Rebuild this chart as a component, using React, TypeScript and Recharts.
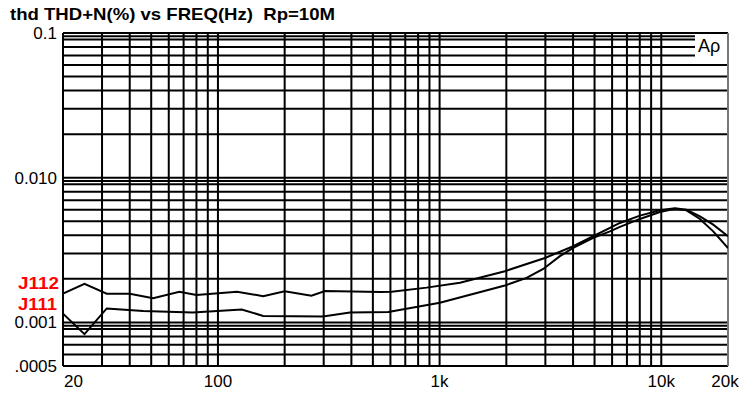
import { LineChart, Line, XAxis, YAxis, ReferenceLine } from "recharts";

const freqTicks = [20, 100, 1000, 10000, 20000];
const freqTickLabels = ["20", "100", "1k", "10k", "20k"];
const thdTicks = [0.0005, 0.001, 0.01, 0.1];
const thdTickLabels = [".0005", "0.001", "0.010", "0.1"];

const freqGrid = [
  20, 30, 40, 50, 60, 70, 80, 90,
  100, 200, 300, 400, 500, 600, 700, 800, 900,
  1000, 2000, 3000, 4000, 5000, 6000, 7000, 8000, 9000,
  10000,
];
const thdGrid = [
  0.0005, 0.0006, 0.0007, 0.0008, 0.0009, 0.00095,
  0.001, 0.002, 0.003, 0.004, 0.005, 0.006, 0.007, 0.008, 0.009, 0.0095,
  0.01, 0.02, 0.03, 0.04, 0.05, 0.06, 0.07, 0.08, 0.09, 0.095,
  0.1,
];

// J112 sweep
const j112Freq = [
  20, 25, 31.5, 40, 51, 67, 80, 122, 160, 200, 264, 304, 540, 608, 874, 1235,
  1971, 2986, 4006, 4932, 5866, 6508, 8010, 9859, 11520, 13000, 14940, 17150, 20000,
];
const j112Thd = [
  0.00158, 0.00185, 0.00158, 0.00158, 0.00147, 0.00163, 0.00155, 0.00163, 0.00152,
  0.00164, 0.00153, 0.00165, 0.00162, 0.00163, 0.00174, 0.00188, 0.00226, 0.00279,
  0.00336, 0.00394, 0.0045, 0.00487, 0.00547, 0.00595, 0.00614, 0.00602, 0.00541,
  0.00474, 0.00394,
];

// J111 sweep
const j111Freq = [
  20, 25, 31.5, 46, 77, 128, 160, 298, 394, 587, 1003, 1971, 2469, 2934, 3490,
  4006, 4932, 5866, 6508, 8010, 9859, 11520, 13000, 14940, 17150, 20000,
];
const j111Thd = [
  0.00115, 0.00083, 0.00125, 0.0012, 0.00117, 0.00123, 0.00111, 0.0011, 0.00117,
  0.00118, 0.00137, 0.0018, 0.00203, 0.00234, 0.00287, 0.00327, 0.00384, 0.00426,
  0.00457, 0.00519, 0.0058, 0.00611, 0.00595, 0.00519, 0.00426, 0.00327,
];

const j112 = j112Freq.map((f, i) => ({ f, v: j112Thd[i] }));
const j111 = j111Freq.map((f, i) => ({ f, v: j111Thd[i] }));

const font = "'Liberation Sans', Arial, sans-serif";

function FreqTick({ x, payload }: any) {
  const i = freqTicks.indexOf(payload.value);
  const first = i === 0;
  return (
    <text
      x={first ? x + 1 : x}
      y={387}
      textAnchor={first ? "start" : "middle"}
      fontFamily={font}
      fontSize={17}
      fill="#000"
    >
      {freqTickLabels[i]}
    </text>
  );
}

function ThdTick({ y, payload }: any) {
  const i = thdTicks.indexOf(payload.value);
  return (
    <text x={57} y={y} dy="0.355em" textAnchor="end" fontFamily={font} fontSize={17} fill="#000">
      {thdTickLabels[i]}
    </text>
  );
}

export default function App() {
  return (
    <div style={{ position: "relative", width: 745, height: 393, background: "#fff" }}>
      <style>{`body{margin:0;background:#fff}`}</style>
      <LineChart
        width={745}
        height={393}
        margin={{ top: 33, right: 17, bottom: 0, left: 0 }}
      >
        <XAxis
          dataKey="f"
          type="number"
          scale="log"
          domain={[20, 20000]}
          ticks={freqTicks}
          allowDataOverflow
          axisLine={false}
          tickLine={false}
          height={27}
          tick={<FreqTick />}
        />
        <YAxis
          dataKey="v"
          type="number"
          scale="log"
          domain={[0.0005, 0.1]}
          ticks={thdTicks}
          allowDataOverflow
          axisLine={false}
          tickLine={false}
          width={63}
          tick={<ThdTick />}
        />
        {/* grid drawn as reference lines so every minor decade line shows */}
        {thdGrid.map((v) => (
          <ReferenceLine key={"h" + v} y={v} stroke="#000" strokeWidth={2} />
        ))}
        {freqGrid.map((f) => (
          <ReferenceLine key={"v" + f} x={f} stroke="#000" strokeWidth={2} />
        ))}
        <ReferenceLine x={20000} stroke="#777" strokeWidth={2} />
        <Line
          data={j112}
          dataKey="v"
          type="linear"
          stroke="#000"
          strokeWidth={2}
          dot={false}
          isAnimationActive={false}
        />
        <Line
          data={j111}
          dataKey="v"
          type="linear"
          stroke="#000"
          strokeWidth={2}
          dot={false}
          isAnimationActive={false}
        />
      </LineChart>
      <svg
        width={745}
        height={393}
        style={{ position: "absolute", left: 0, top: 0, pointerEvents: "none" }}
      >
        <text
          x={10}
          y={20}
          fontFamily={font}
          fontWeight="bold"
          fontSize={17}
          textLength={325}
          lengthAdjust="spacingAndGlyphs"
          style={{ whiteSpace: "pre" }}
          fill="#000"
        >
          {"thd THD+N(%) vs FREQ(Hz)  Rp=10M"}
        </text>
        <text
          x={18}
          y={289}
          fontFamily={font}
          fontWeight="bold"
          fontSize={17}
          textLength={41}
          lengthAdjust="spacingAndGlyphs"
          fill="#ff0000"
        >
          J112
        </text>
        <text
          x={18}
          y={309.5}
          fontFamily={font}
          fontWeight="bold"
          fontSize={17}
          textLength={39}
          lengthAdjust="spacingAndGlyphs"
          fill="#ff0000"
        >
          J111
        </text>
        <rect x={695} y={35} width={32} height={23} fill="#fff" />
        <text x={698} y={52} fontFamily={font} fontSize={18} fill="#000">
          Aρ
        </text>
      </svg>
    </div>
  );
}
